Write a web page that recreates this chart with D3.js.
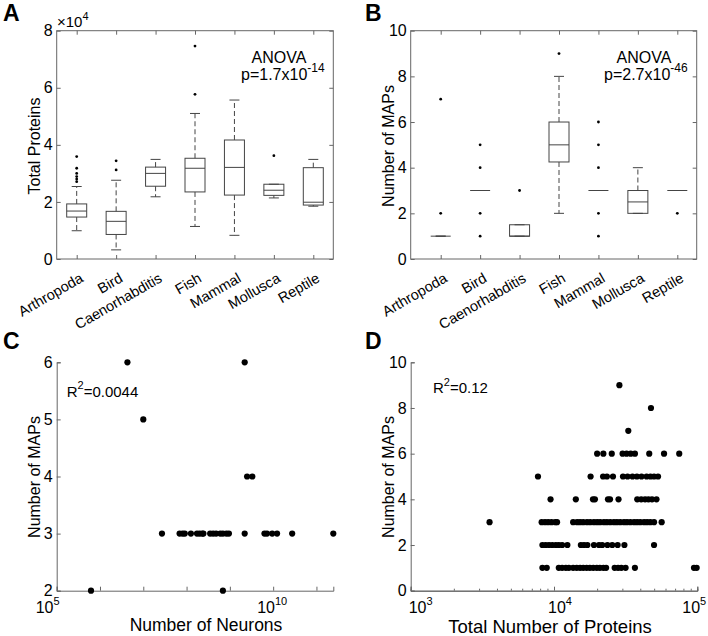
<!DOCTYPE html>
<html>
<head>
<meta charset="utf-8">
<script src="https://cdn.jsdelivr.net/npm/d3@7"></script>
<style>
  body { margin: 0; background: #fff; }
  svg { font-family: "Liberation Sans", Arial, sans-serif; }
</style>
</head>
<body>
<div id="chart"></div>
<script>
const categories = ["Arthropoda", "Bird", "Caenorhabditis", "Fish", "Mammal", "Mollusca", "Reptile"];

// A: total proteins per clade (box summaries)
const proteinLow = [9900, 3200, 21800, 11400, 8300, 21400, 18500];
const proteinQ1 = [14700, 8600, 25500, 23500, 22400, 22300, 18900];
const proteinMedian = [16800, 13200, 30000, 31800, 32100, 24100, 19900];
const proteinQ3 = [19300, 16700, 32200, 35300, 41700, 26200, 32000];
const proteinHigh = [25400, 27600, 34900, 51000, 55700, 26200, 34900];
const proteinOutliers = [
  [27100, 28000, 28900, 30000, 31800, 35900],
  [31200, 34400],
  [],
  [57700, 74600],
  [],
  [36200],
  []
];

// B: number of MAPs per clade
const mapsLow = [1, 3, 1, 2, 3, 2, 3];
const mapsQ1 = [1, 3, 1, 4.25, 3, 2, 3];
const mapsMedian = [1, 3, 1, 5, 3, 2.5, 3];
const mapsQ3 = [1, 3, 1.5, 6, 3, 3, 3];
const mapsHigh = [1, 3, 1.5, 8, 3, 4, 3];
const mapsOutliers = [[2, 7], [1, 2, 4, 5], [3], [9], [1, 2, 4, 5, 6], [], [2]];

// C: neurons vs MAPs
const neuronCounts = [
  6.2e5, 4.3e6, 1.0e7,
  2.7e7, 6.9e7, 8.1e7, 9.1e7, 1.26e8, 1.74e8, 2.0e8, 2.3e8, 2.45e8, 3.5e8, 4.1e8, 4.8e8,
  6.0e8, 6.9e8, 8.3e8, 9.5e8, 2.2e9, 6.3e9, 7.2e9, 9.5e9, 1.23e10, 2.75e10, 2.45e11,
  6.9e8, 2.2e9, 2.5e9, 3.3e9
];
const neuronMaps = [
  2, 6, 5,
  3, 3, 3, 3, 3, 3, 3, 3, 3, 3, 3, 3,
  3, 3, 3, 3, 3, 3, 3, 3, 3, 3, 3,
  2, 6, 4, 4
];

// D: total proteins vs MAPs, one list per MAP count
const proteinsWith1Map = [8300, 8900, 10800, 11400, 12100, 12700, 13600, 14400, 15200, 16000, 16900, 17800,
  18800, 19900, 20900, 22100, 23100, 26500, 28000, 29500, 31600, 36700, 94800, 99000];
const proteinsWith2Maps = [8300, 8750, 9230, 9730, 10300, 10800, 11400, 12400, 15400, 16200, 17100, 19000,
  20600, 21700, 23600, 25500, 27800, 31000, 49900];
const proteinsWith3Maps = [3550, 8200, 8650, 9100, 9600, 10200, 10500, 13600, 14500, 15200, 16000, 17000,
  17900, 19000, 20000, 21000, 22300, 23400, 24700, 26200, 27500, 29000, 30800, 32300, 34100, 36200, 38000,
  40000, 42500, 44600, 47000, 49900, 56400];
const proteinsWith4Maps = [9460, 14200, 18700, 19300, 23800, 24600, 28200, 38100, 40600, 43200, 45600, 48300, 51900];
const proteinsWith5Maps = [7730, 18000, 22000, 23400, 25800, 30300, 32600, 35300, 37900, 40800, 44300, 47100, 49900, 53200];
const proteinsWith6Maps = [20000, 22100, 25300, 30100, 32100, 34300, 36700, 46200, 58600, 74800];
const proteinsWith7Maps = [33000];
const proteinsWith8Maps = [47500];
const proteinsWith9Maps = [28600];

const axisColor = "#666";
const boxColor = "#444";

const svg = d3.select("#chart")
  .append("svg")
  .attr("width", 708)
  .attr("height", 636);

function panelLetter(x, y, letter) {
  svg.append("text")
    .attr("x", x)
    .attr("y", y)
    .style("font-size", "23px")
    .style("font-weight", "bold")
    .text(letter);
}

function yLabel(x, y, label) {
  svg.append("text")
    .attr("transform", `translate(${x},${y}) rotate(-90)`)
    .style("text-anchor", "middle")
    .style("font-size", "16px")
    .text(label);
}

function supText(g, x, y, base, sup, size, supSize, anchor) {
  const t = g.append("text")
    .attr("x", x)
    .attr("y", y)
    .style("font-size", size + "px")
    .style("text-anchor", anchor || "start");
  t.append("tspan").text(base);
  t.append("tspan").attr("dy", -size * 0.5).style("font-size", supSize + "px").text(sup);
  return t;
}

function boxPanel(cfg) {
  const g = svg.append("g");
  const x = d3.scalePoint().domain(categories).range(cfg.xRange);
  const y = d3.scaleLinear().domain(cfg.yDomain).range([cfg.bottom, cfg.top]);
  const w = 20;

  g.append("rect")
    .attr("x", cfg.left)
    .attr("y", cfg.top)
    .attr("width", cfg.right - cfg.left)
    .attr("height", cfg.bottom - cfg.top)
    .attr("fill", "none")
    .attr("stroke", axisColor);

  const left = g.append("g")
    .attr("transform", `translate(${cfg.left},0)`)
    .call(d3.axisLeft(y).tickValues(cfg.yTicks).tickSize(-4).tickPadding(4).tickFormat(cfg.yFormat));
  g.append("g")
    .attr("transform", `translate(${cfg.right},0)`)
    .call(d3.axisRight(y).tickValues(cfg.yTicks).tickSize(-4).tickFormat(""));
  g.append("g")
    .attr("transform", `translate(0,${cfg.top})`)
    .call(d3.axisTop(x).tickSize(-4).tickFormat(""));
  const bottom = g.append("g")
    .attr("transform", `translate(0,${cfg.bottom})`)
    .call(d3.axisBottom(x).tickSize(-4));

  g.selectAll(".domain").remove();
  g.selectAll(".tick line").attr("stroke", axisColor);
  left.selectAll("text").style("font-size", "16px").attr("fill", "#000");
  bottom.selectAll("text")
    .attr("y", 0)
    .attr("dy", null)
    .attr("transform", "translate(7,22) rotate(-30)")
    .style("text-anchor", "end")
    .style("font-size", "14.5px")
    .attr("fill", "#000");

  const stats = categories.map((c, i) => ({
    c,
    low: cfg.low[i], q1: cfg.q1[i], med: cfg.median[i], q3: cfg.q3[i], high: cfg.high[i],
    out: cfg.outliers[i]
  }));

  const box = g.selectAll(".box")
    .data(stats)
    .enter()
    .append("g")
    .attr("class", "box")
    .attr("transform", (d) => `translate(${x(d.c)},0)`);

  box.append("line")
    .attr("y1", (d) => y(d.q3))
    .attr("y2", (d) => y(d.high))
    .attr("stroke", boxColor)
    .attr("stroke-dasharray", "5,3");
  box.append("line")
    .attr("y1", (d) => y(d.q1))
    .attr("y2", (d) => y(d.low))
    .attr("stroke", boxColor)
    .attr("stroke-dasharray", "5,3");
  box.append("line")
    .attr("x1", -w / 4).attr("x2", w / 4)
    .attr("y1", (d) => y(d.high)).attr("y2", (d) => y(d.high))
    .attr("stroke", boxColor);
  box.append("line")
    .attr("x1", -w / 4).attr("x2", w / 4)
    .attr("y1", (d) => y(d.low)).attr("y2", (d) => y(d.low))
    .attr("stroke", boxColor);
  box.append("rect")
    .attr("x", -w / 2)
    .attr("width", w)
    .attr("y", (d) => y(d.q3))
    .attr("height", (d) => y(d.q1) - y(d.q3))
    .attr("fill", "none")
    .attr("stroke", boxColor);
  box.append("line")
    .attr("x1", -w / 2).attr("x2", w / 2)
    .attr("y1", (d) => y(d.med)).attr("y2", (d) => y(d.med))
    .attr("stroke", boxColor);
  box.selectAll("circle")
    .data((d) => d.out)
    .enter()
    .append("circle")
    .attr("cy", (v) => y(v))
    .attr("r", 1.4)
    .attr("fill", "#000");

  return g;
}

function logAxisScatter(cfg) {
  const g = svg.append("g");
  const x = d3.scaleLog().domain(cfg.xDomain).range([cfg.left, cfg.right]);
  const y = d3.scaleLinear().domain(cfg.yDomain).range([cfg.bottom, cfg.top]);

  g.append("g")
    .attr("transform", `translate(${cfg.left},0)`)
    .call(d3.axisLeft(y).tickValues(cfg.yTicks).tickSize(-4).tickPadding(4).tickFormat(d3.format("d")))
    .call((a) => a.selectAll("text").style("font-size", "16px").attr("fill", "#000"));
  g.append("g")
    .attr("transform", `translate(0,${cfg.bottom})`)
    .call(d3.axisBottom(x).tickValues(cfg.majorTicks).tickSize(-4).tickFormat(""));
  if (cfg.minorTicks.length) {
    g.append("g")
      .attr("transform", `translate(0,${cfg.bottom})`)
      .call(d3.axisBottom(x).tickValues(cfg.minorTicks).tickSize(-2).tickFormat(""));
  }
  g.selectAll(".domain").attr("stroke", axisColor);
  g.selectAll(".tick line").attr("stroke", axisColor);

  cfg.labelTicks.forEach((v, i) => {
    supText(g, x(v) + cfg.labelShift[i], cfg.bottom + 22, "10", String(Math.round(Math.log10(v))), 16, 11);
  });

  g.selectAll(".dot")
    .data(cfg.points)
    .enter()
    .append("circle")
    .attr("class", "dot")
    .attr("cx", (d) => x(d[0]))
    .attr("cy", (d) => y(d[1]))
    .attr("r", 3.1)
    .attr("fill", "#000");

  return g;
}

// ---- A
boxPanel({
  left: 56.7, right: 333.3, top: 30.7, bottom: 259,
  xRange: [76.7, 313.3],
  yDomain: [0, 80000],
  yTicks: [0, 20000, 40000, 60000, 80000],
  yFormat: (d) => d / 10000,
  low: proteinLow, q1: proteinQ1, median: proteinMedian, q3: proteinQ3, high: proteinHigh,
  outliers: proteinOutliers
});
panelLetter(3, 21, "A");
yLabel(39.5, 146, "Total Proteins");
supText(svg, 57, 27, "\u00d710", "4", 15, 11);
svg.append("text").attr("x", 279).attr("y", 63).style("font-size", "16px")
  .style("text-anchor", "middle").text("ANOVA");
supText(svg, 241, 80, "p=1.7x10", "-14", 16, 12);

// ---- B
boxPanel({
  left: 410.7, right: 696.7, top: 30.7, bottom: 259,
  xRange: [440.7, 677.3],
  yDomain: [0, 10],
  yTicks: [0, 2, 4, 6, 8, 10],
  yFormat: (d) => d,
  low: mapsLow, q1: mapsQ1, median: mapsMedian, q3: mapsQ3, high: mapsHigh,
  outliers: mapsOutliers
});
panelLetter(365, 21, "B");
yLabel(393.5, 146, "Number of MAPs");
svg.append("text").attr("x", 644).attr("y", 63).style("font-size", "16px")
  .style("text-anchor", "middle").text("ANOVA");
supText(svg, 604, 80, "p=2.7x10", "-46", 16, 12);

// ---- C
logAxisScatter({
  left: 56.7, right: 333.3, top: 362.3, bottom: 590.7,
  xDomain: [1e5, 2.45e11],
  yDomain: [2, 6],
  yTicks: [2, 3, 4, 5, 6],
  majorTicks: [1e5, 1e6, 1e7, 1e8, 1e9, 1e10, 1e11],
  minorTicks: [],
  labelTicks: [1e5, 1e10],
  labelShift: [-21, -16],
  points: neuronCounts.map((v, i) => [v, neuronMaps[i]])
});
panelLetter(3, 349, "C");
yLabel(39.5, 477, "Number of MAPs");
supText(svg, 66.7, 396.7, "R", "2", 15, 11).append("tspan").attr("dy", 15 * 0.5).style("font-size", "15px").text("=0.0044");
svg.append("text").attr("x", 206).attr("y", 631).style("font-size", "17.5px")
  .style("text-anchor", "middle").text("Number of Neurons");

// ---- D
const dPoints = [];
[proteinsWith1Map, proteinsWith2Maps, proteinsWith3Maps, proteinsWith4Maps, proteinsWith5Maps,
  proteinsWith6Maps, proteinsWith7Maps, proteinsWith8Maps, proteinsWith9Maps]
  .forEach((list, i) => list.forEach((v) => dPoints.push([v, i + 1])));

const dMinor = [];
[1e3, 1e4].forEach((dec) => d3.range(2, 10).forEach((k) => dMinor.push(k * dec)));

logAxisScatter({
  left: 410.7, right: 697.3, top: 362.3, bottom: 590.7,
  xDomain: [1e3, 1e5],
  yDomain: [0, 10],
  yTicks: [0, 2, 4, 6, 8, 10],
  majorTicks: [1e3, 1e4, 1e5],
  minorTicks: dMinor,
  labelTicks: [1e3, 1e4, 1e5],
  labelShift: [-2, -6, -15],
  points: dPoints
});
panelLetter(365, 349, "D");
yLabel(393.5, 477, "Number of MAPs");
supText(svg, 433, 393.3, "R", "2", 15, 11).append("tspan").attr("dy", 15 * 0.5).style("font-size", "15px").text("=0.12");
svg.append("text").attr("x", 550).attr("y", 633).style("font-size", "18.5px")
  .style("text-anchor", "middle").text("Total Number of Proteins");
</script>
</body>
</html>
